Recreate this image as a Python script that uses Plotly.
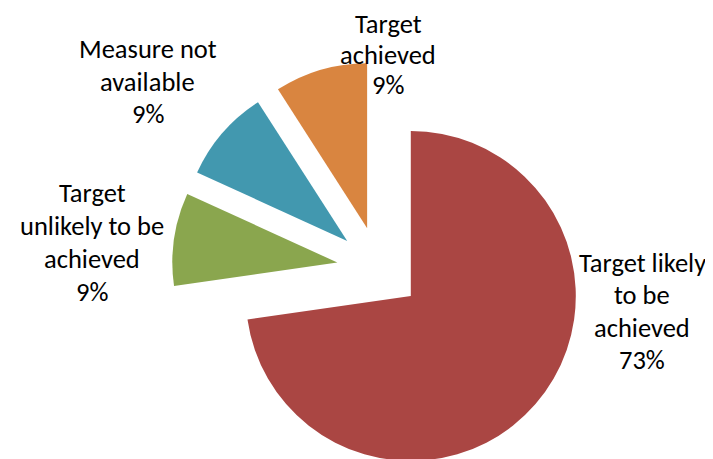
import plotly.graph_objects as go

labels = ["Target likely to be achieved", "Target unlikely to be achieved",
          "Measure not available", "Target achieved"]
values = [8, 1, 1, 1]
colors = ["#AA4643", "#8AA64E", "#4298AF", "#D98540"]
label_lines = [["Target likely", "to be", "achieved"],
               ["Target", "unlikely to be", "achieved"],
               ["Measure not", "available"],
               ["Target", "achieved"]]

OFF = 8  # page body margin
W, H = 705, 470
cx, cy, r, pull = 379 - OFF, 268.5 - OFF, 165, 0.255
half = r * (1 + pull)

fig = go.Figure(go.Pie(
    labels=labels, values=values, sort=False, direction="clockwise", rotation=0,
    marker=dict(colors=colors, line=dict(width=0)),
    pull=[pull] * 4, textinfo="none", hoverinfo="label+percent",
    domain=dict(x=[(cx - half) / W, (cx + half) / W],
                y=[max(0, 1 - (cy + half) / H), 1 - (cy - half) / H]),
    showlegend=False,
))

total = sum(values)
pcts = [f"{round(v / total * 100)}%" for v in values]
# (center x, first baseline y, line gap) in page pixels
pos = [(642, 272, 32.3), (92, 202.5, 33), (147.5, 58.3, 32.5), (388, 33.5, 30.5)]
fs = 26.5
annotations = []
for lines, pct, (x, y0, gap) in zip(label_lines, pcts, pos):
    for i, t in enumerate(lines + [pct]):
        yb = y0 + i * gap - OFF
        ymid = yb - 0.34 * fs
        annotations.append(dict(text=t, x=(x - OFF) / W, y=1 - ymid / H, xref="paper", yref="paper",
                                xanchor="center", yanchor="middle", showarrow=False,
                                font=dict(size=fs, color="#000000",
                                          family="Carlito, Lato, Liberation Sans, sans-serif")))

fig.update_layout(width=W, height=H, margin=dict(l=0, r=0, t=0, b=0),
                  paper_bgcolor="white", plot_bgcolor="white", annotations=annotations)
fig.write_html("out.html")
